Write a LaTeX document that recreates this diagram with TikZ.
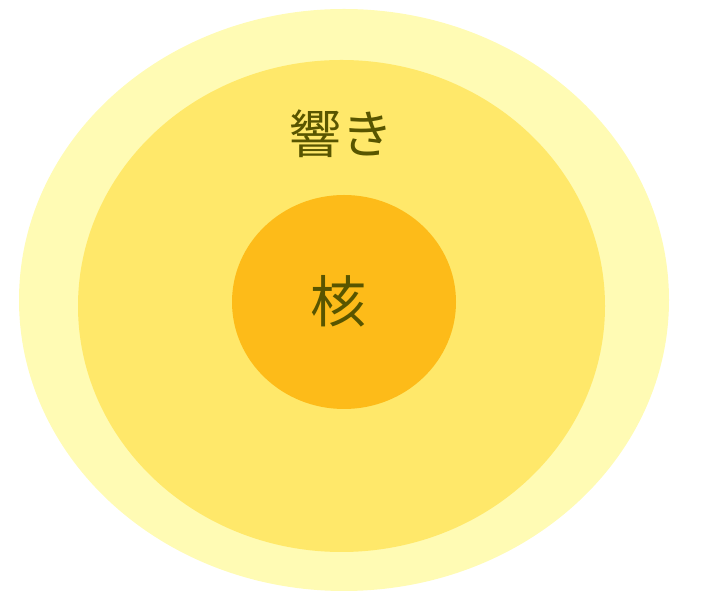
\documentclass[tikz,border=0pt]{standalone}
\usepackage{fontspec}
\newfontfamily\jpfont{Noto Sans CJK JP}
\usetikzlibrary{shapes.geometric}
\definecolor{outerc}{HTML}{FFFBB4}
\definecolor{midc}{HTML}{FFE86A}
\definecolor{corec}{HTML}{FDBB19}
\definecolor{textc}{HTML}{585500}
\tikzset{
  ring/.style={ellipse, draw=none, inner sep=0pt},
  lbl/.style={text=textc, inner sep=0pt}
}
\begin{document}
\begin{tikzpicture}[x=1pt,y=1pt]
\useasboundingbox (0,0) rectangle (710,599);
\node[ring, fill=outerc, minimum width=650pt, minimum height=582pt] (outer) at (344,299) {};
\node[ring, fill=midc, minimum width=527pt, minimum height=492pt] (middle) at (341.5,293) {};
\node[ring, fill=corec, minimum width=224pt, minimum height=214pt] (core) at (344,297) {};
\node[lbl, font=\jpfont\fontsize{52}{58}\selectfont] (hibiki) at (341,465) {響き};
\node[lbl, font=\jpfont\fontsize{56}{62}\selectfont] (kaku) at (338.5,297.5) {核};
\end{tikzpicture}
\end{document}
